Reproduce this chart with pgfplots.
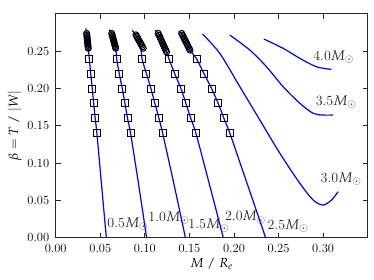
\documentclass[border=0pt]{standalone}
\usepackage{mathpazo}
\usepackage{pgfplots}
\pgfplotsset{compat=1.18}
\definecolor{axgray}{RGB}{40,40,40}
\begin{document}
\begin{tikzpicture}
\pgfplotsset{
  common/.style={
    scale only axis, width=312pt, height=223.7pt,
    xmin=0, xmax=0.35, ymin=0, ymax=0.3,
  }
}
\begin{axis}[common, name=ax, clip=false,
  axis line style={draw=axgray, line width=1pt},
  every tick/.style={draw=axgray, line width=0.9pt},
  major tick length=5pt,
  tick label style={font=\fontsize{12.5}{15}\selectfont},
  xtick={0,0.05,0.10,0.15,0.20,0.25,0.30},
  ytick={0,0.05,0.10,0.15,0.20,0.25},
  xticklabels={0.00,0.05,0.10,0.15,0.20,0.25,0.30},
  yticklabels={0.00,0.05,0.10,0.15,0.20,0.25},
  xticklabel style={yshift=-3pt},
  yticklabel style={xshift=-3pt},
  xlabel={$M\;/\;R_e$},
  ylabel={$\beta = T\;/\;|W|$},
  label style={font=\fontsize{13}{15}\selectfont},
  xlabel style={yshift=2pt},
  ylabel style={yshift=-1pt},
]
% blue curves
\addplot[blue, line width=1.2pt, smooth, tension=0.4] coordinates {
 (0.0339,0.2807) (0.0347,0.274) (0.0365,0.254) (0.0377,0.240) (0.0393,0.220) (0.0410,0.200) (0.0426,0.180) (0.0443,0.160) (0.0462,0.140) (0.0515,0.070) (0.0568,0.000)};
\addplot[blue, line width=1.2pt, smooth, tension=0.4] coordinates {
 (0.0601,0.279) (0.0628,0.274) (0.0673,0.254) (0.0684,0.240) (0.0713,0.220) (0.0747,0.200) (0.0777,0.180) (0.0806,0.160) (0.0840,0.140) (0.0932,0.070) (0.1020,0.000)};
\addplot[blue, line width=1.2pt, smooth, tension=0.4] coordinates {
 (0.0859,0.278) (0.0900,0.272) (0.0950,0.260) (0.0968,0.240) (0.1018,0.220) (0.1068,0.200) (0.1113,0.180) (0.1158,0.160) (0.1200,0.140) (0.1330,0.070) (0.1455,0.000)};
\addplot[blue, line width=1.2pt, smooth, tension=0.4] coordinates {
 (0.1113,0.278) (0.1150,0.274) (0.1244,0.249) (0.1270,0.240) (0.1335,0.220) (0.1405,0.200) (0.1461,0.180) (0.1515,0.160) (0.1573,0.140) (0.1728,0.070) (0.1880,0.000)};
\addplot[blue, line width=1.2pt, smooth, tension=0.4] coordinates {
 (0.1375,0.276) (0.1413,0.274) (0.1506,0.2516) (0.1580,0.240) (0.1663,0.220) (0.1749,0.200) (0.1823,0.180) (0.1887,0.160) (0.1954,0.140) (0.2155,0.070) (0.2355,0.000)};
\addplot[blue, line width=1.2pt, smooth, tension=0.5] coordinates {
 (0.1648,0.273) (0.1842,0.247) (0.2066,0.2024) (0.2290,0.1578) (0.2515,0.1131) (0.2739,0.0729) (0.2888,0.0505) (0.3000,0.0438) (0.3094,0.0505) (0.3168,0.0617)};
\addplot[blue, line width=1.2pt, smooth, tension=0.5] coordinates {
 (0.1954,0.2717) (0.2178,0.2516) (0.2365,0.2292) (0.2552,0.2024) (0.2739,0.1802) (0.2888,0.1668) (0.3000,0.1645) (0.3112,0.1645)};
\addplot[blue, line width=1.2pt, smooth, tension=0.5] coordinates {
 (0.2335,0.2664) (0.2552,0.2539) (0.2739,0.2405) (0.2926,0.2292) (0.3094,0.2257)};
% squares
\addplot[only marks, mark=square, mark size=3.5pt, mark options={draw=black, line width=1pt}] coordinates {
 (0.0377,0.240) (0.0393,0.220) (0.0410,0.200) (0.0426,0.180) (0.0443,0.160) (0.0462,0.140)
 (0.0684,0.240) (0.0713,0.220) (0.0747,0.200) (0.0777,0.180) (0.0806,0.160) (0.0840,0.140)
 (0.0968,0.240) (0.1018,0.220) (0.1068,0.200) (0.1113,0.180) (0.1158,0.160) (0.1200,0.140)
 (0.1270,0.240) (0.1335,0.220) (0.1405,0.200) (0.1461,0.180) (0.1515,0.160) (0.1573,0.140)
 (0.1580,0.240) (0.1663,0.220) (0.1749,0.200) (0.1823,0.180) (0.1887,0.160) (0.1954,0.140)};
% circles
\addplot[only marks, mark=o, mark size=3pt, mark options={draw=black, line width=1pt}] coordinates {
 (0.0347,0.274) (0.0349,0.272) (0.0351,0.270) (0.0352,0.268) (0.0354,0.266) (0.0356,0.264) (0.0358,0.262) (0.0360,0.260) (0.0361,0.258) (0.0363,0.256) (0.0365,0.254)
 (0.0628,0.274) (0.0633,0.272) (0.0637,0.270) (0.0642,0.268) (0.0646,0.266) (0.0651,0.264) (0.0655,0.262) (0.0660,0.260) (0.0664,0.258) (0.0669,0.256) (0.0673,0.254)
 (0.0900,0.272) (0.0909,0.270) (0.0918,0.268) (0.0927,0.266) (0.0936,0.264) (0.0946,0.262) (0.0955,0.260) (0.0964,0.258) (0.0973,0.256) (0.0982,0.254)
 (0.1150,0.274) (0.1159,0.2715) (0.1169,0.269) (0.1178,0.2665) (0.1188,0.264) (0.1197,0.2615) (0.1206,0.259) (0.1216,0.2565) (0.1225,0.254) (0.1235,0.2515) (0.1244,0.249)
 (0.1413,0.2740) (0.1422,0.2718) (0.1432,0.2695) (0.1441,0.2673) (0.1450,0.2650) (0.1460,0.2628) (0.1469,0.2606) (0.1478,0.2583) (0.1487,0.2561) (0.1497,0.2538) (0.1506,0.2516)};
% labels
\begin{scope}[every node/.style={anchor=base west, inner sep=0pt, text=black!85, font=\fontsize{14}{16}\selectfont}]
\node at (axis cs:0.0578,0.0134) {0.5$M_\odot$};
\node at (axis cs:0.1038,0.0214) {1.0$M_\odot$};
\node at (axis cs:0.1487,0.0117) {1.5$M_\odot$};
\node at (axis cs:0.1898,0.0224) {2.0$M_\odot$};
\node at (axis cs:0.2375,0.0110) {2.5$M_\odot$};
\node at (axis cs:0.2971,0.0743) {3.0$M_\odot$};
\node at (axis cs:0.2915,0.1770) {3.5$M_\odot$};
\node at (axis cs:0.2888,0.2382) {4.0$M_\odot$};
\end{scope}
\end{axis}
\begin{axis}[common,
  axis x line*=bottom, axis y line=none,
  x axis line style={draw=none},
  xtick=\empty, tick align=inside,
  minor xtick={0.01,0.02,0.03,0.04,0.06,0.07,0.08,0.09,0.11,0.12,0.13,0.14,0.16,0.17,0.18,0.19,0.21,0.22,0.23,0.24,0.26,0.27,0.28,0.29,0.31,0.32,0.33,0.34},
  minor tick length=3pt,
  every tick/.style={draw=axgray, line width=0.9pt},
]
\end{axis}
\pgfresetboundingbox
\path ([shift={(-55.7pt,-42.3pt)}]ax.south west) rectangle ([shift={(6.3pt,14pt)}]ax.north east);
\end{tikzpicture}
\end{document}
